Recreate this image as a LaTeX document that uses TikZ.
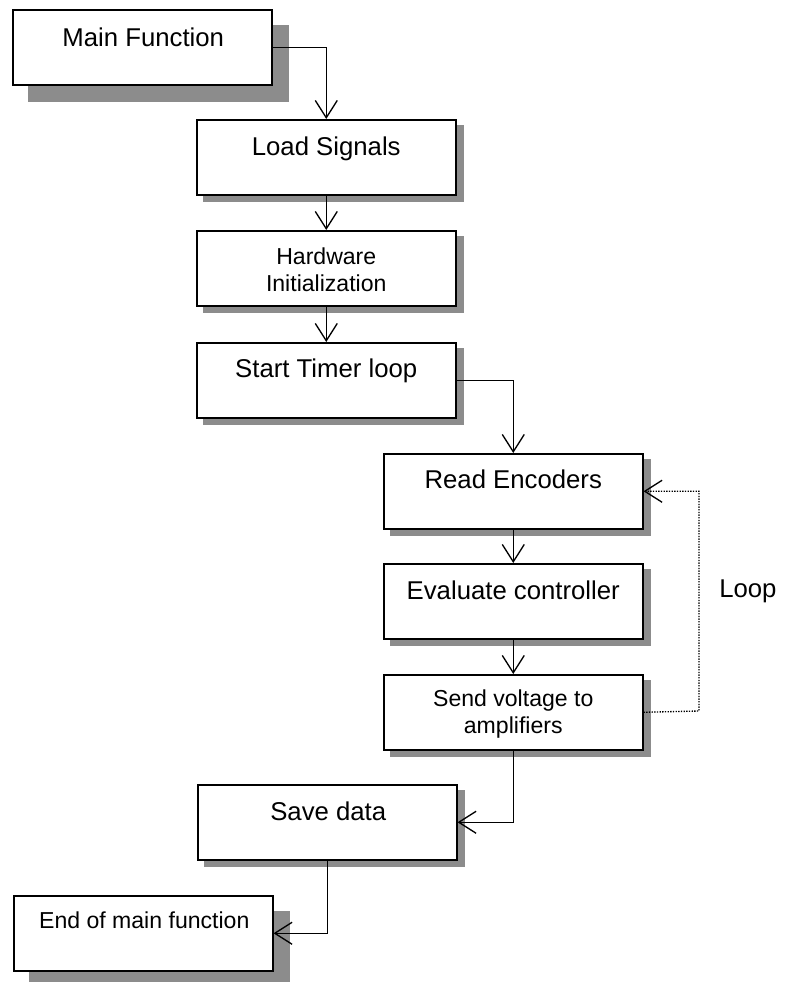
\documentclass[tikz,border=0pt]{standalone}
\usepackage{fontspec}
\setmainfont{Liberation Sans}
\usetikzlibrary{arrows.meta,calc,backgrounds}
\begin{document}
\begin{tikzpicture}[x=0.75pt,y=-0.75pt,
  box/.style={draw=black, line width=1.4pt, fill=white, inner sep=0pt, minimum width=194pt, minimum height=56pt, anchor=north west},
  big/.style={font=\fontsize{19.3}{20}\selectfont, inner sep=0pt, anchor=base, align=center},
  small/.style={font=\fontsize{17.3}{19.8}\selectfont, inner sep=0pt, anchor=base, align=center},
  conn/.style={line width=1pt, -{Straight Barb[length=13pt,width=16.5pt]}},
  loopc/.style={line width=1pt, densely dotted, -{Straight Barb[length=13pt,width=16.5pt]}},
  shadowc/.style={fill=black!45},
]
\useasboundingbox (0,0) rectangle (788,982);

% boxes
\node[box] (main)  at (12,9)   {};
\node[box] (load)  at (196,119) {};
\node[box] (hw)    at (196,230) {};
\node[box] (timer) at (196,342) {};
\node[box] (enc)   at (383,453) {};
\node[box] (eval)  at (383,563) {};
\node[box] (send)  at (383,674) {};
\node[box] (save)  at (197,784) {};
\node[box] (endf)  at (13,895)  {};

% shadows
\begin{pgfonlayer}{background}
\fill[shadowc] ($(main.north west)+(16,16)$) rectangle ($(main.south east)+(16,16)$);
\fill[shadowc] ($(endf.north west)+(16,16)$) rectangle ($(endf.south east)+(16,16)$);
\foreach \b in {load,hw,timer,enc,eval,send,save}{
  \fill[shadowc] ($(\b.north west)+(7,6)$) rectangle ($(\b.south east)+(7,6)$);
}
\end{pgfonlayer}

% texts
\node[big]   (mainT)  at ($(main.north)+(1,37)$)  {Main Function};
\node[big]   (loadT)  at ($(load.north)+(0,36)$)  {Load Signals};
\node[small] (hwT)    at ($(hw.north)+(0,61)$)    {Hardware\\Initialization};
\node[big]   (timerT) at ($(timer.north)+(0,35)$) {Start Timer loop};
\node[big]   (encT)   at ($(enc.north)+(0,35)$)   {Read Encoders};
\node[big]   (evalT)  at ($(eval.north)+(0,36)$)  {Evaluate controller};
\node[small] (sendT)  at ($(send.north)+(0,59)$)  {Send voltage to\\amplifiers};
\node[big]   (saveT)  at ($(save.north)+(1,36)$)  {Save data};
\node[small] (endT)   at ($(endf.north)+(1,33)$)  {End of main function};
\node[big, anchor=base west] (loopT) at (719,597) {Loop};

% connectors
\draw[conn] (main.east) -| (load.north);
\draw[conn] (load.south) -- (hw.north);
\draw[conn] (hw.south) -- (timer.north);
\draw[conn] (timer.east) -| (enc.north);
\draw[conn] (enc.south) -- (eval.north);
\draw[conn] (eval.south) -- (send.north);
\draw[conn] (send.south) |- (save.east);
\draw[conn] (save.south) |- (endf.east);
\coordinate (lc) at (699,711);
\draw[loopc] (send.east) -- (lc) |- (enc.east);
\end{tikzpicture}
\end{document}
